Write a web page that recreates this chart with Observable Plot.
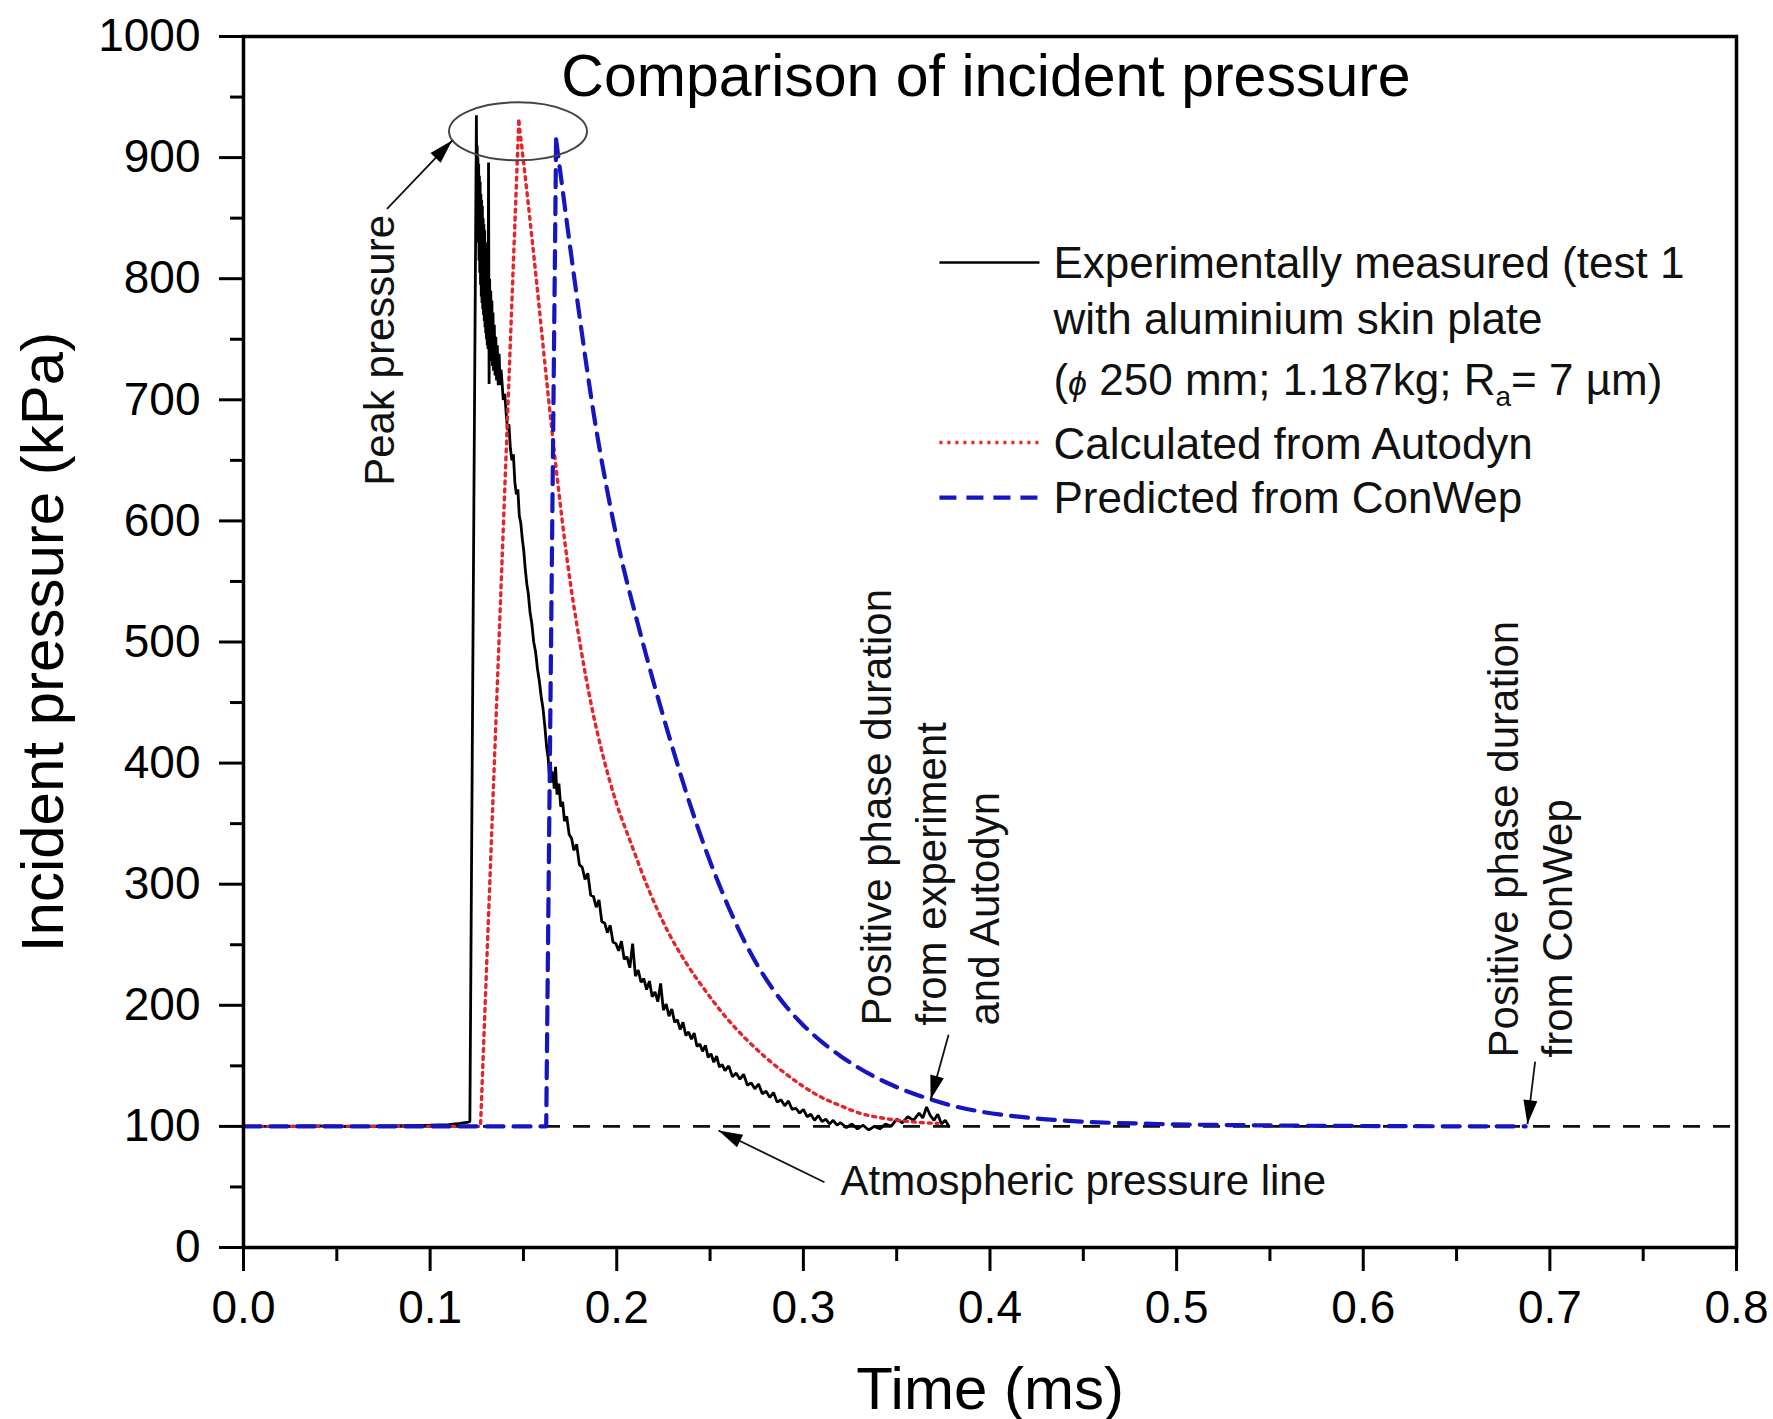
<!DOCTYPE html>
<html>
<head>
<meta charset="utf-8">
<script src="https://cdn.jsdelivr.net/npm/d3@7"></script>
<script src="https://cdn.jsdelivr.net/npm/@observablehq/plot@0.6"></script>
<style>
  html, body { margin: 0; padding: 0; background: #fff; }
  #chart svg { display: block; }
</style>
</head>
<body>
<div id="chart"></div>
<script>
// ---------------- DATA ----------------
const chartTitle = "Comparison of incident pressure";
const xLabel = "Time (ms)";
const yLabel = "Incident pressure (kPa)";

const xTicks = [0, 0.1, 0.2, 0.3, 0.4, 0.5, 0.6, 0.7, 0.8];
const xMinorTicks = [0.05, 0.15, 0.25, 0.35, 0.45, 0.55, 0.65, 0.75];
const yTicks = [0, 100, 200, 300, 400, 500, 600, 700, 800, 900, 1000];
const yMinorTicks = [50, 150, 250, 350, 450, 550, 650, 750, 850, 950];

const atmosphericPressure = 100;

// Experimentally measured (test 1)
const expTime = [
  0.000, 0.020, 0.040, 0.060, 0.080, 0.100, 0.110, 0.116, 0.1205, 0.1213,
  0.1248, 0.1250, 0.1252, 0.1254, 0.1256, 0.1258, 0.1260, 0.1262, 0.1264, 0.1266,
  0.1268, 0.1270, 0.1272, 0.1274, 0.1276, 0.1278, 0.1280, 0.1282, 0.1284, 0.1286,
  0.1288, 0.1290, 0.1292, 0.1294, 0.1296, 0.1298, 0.1300, 0.1302, 0.1304, 0.1306,
  0.1308, 0.1310, 0.1313, 0.1316, 0.1319, 0.1322, 0.1325, 0.1328, 0.1331, 0.1334,
  0.1337, 0.1340, 0.1344, 0.1348, 0.1352, 0.1356, 0.1360, 0.1365, 0.1370, 0.1375,
  0.1380, 0.1385, 0.1392, 0.1400, 0.1408, 0.1415, 0.1422, 0.1430, 0.1438, 0.1446,
  0.1454, 0.1462, 0.1470, 0.1478, 0.1486, 0.1494, 0.1502, 0.1510, 0.1518, 0.1526,
  0.1535, 0.1545, 0.1555, 0.1565, 0.1575, 0.1585, 0.1595, 0.1605, 0.1615, 0.1625,
  0.1632, 0.1638, 0.1645, 0.1650, 0.1658, 0.1665, 0.1672, 0.1680, 0.1690, 0.1700,
  0.1710, 0.1720, 0.1732, 0.1745, 0.1758, 0.1770, 0.1785, 0.1800, 0.1815, 0.1830,
  0.1845, 0.1860, 0.1875, 0.1890, 0.1905, 0.1920, 0.1935, 0.1950, 0.1965, 0.1980,
  0.1995, 0.2010, 0.2025, 0.2040, 0.2055, 0.2070, 0.2085, 0.2100, 0.2115, 0.2130,
  0.2145, 0.2160, 0.2175, 0.2190, 0.2205, 0.2220, 0.2235, 0.2250, 0.2265, 0.2280,
  0.2295, 0.2310, 0.2325, 0.2340, 0.2355, 0.2370, 0.2385, 0.2400, 0.2415, 0.2430,
  0.2445, 0.2460, 0.2475, 0.2490, 0.2505, 0.2520, 0.2535, 0.2550, 0.2565, 0.2580,
  0.2600, 0.2620, 0.2640, 0.2660, 0.2680, 0.2700, 0.2720, 0.2740, 0.2760, 0.2780,
  0.2800, 0.2820, 0.2840, 0.2860, 0.2880, 0.2900, 0.2920, 0.2940, 0.2960, 0.2980,
  0.3000, 0.3020, 0.3040, 0.3060, 0.3080, 0.3100, 0.3120, 0.3140, 0.3160, 0.3180,
  0.3200, 0.3230, 0.3260, 0.3290, 0.3320, 0.3350, 0.3380, 0.3410, 0.3440, 0.3470,
  0.3500, 0.3530, 0.3560, 0.3590, 0.3620, 0.3640, 0.3660, 0.3680, 0.3700, 0.3720,
  0.3740, 0.3760, 0.3780
];
const expPressure = [
  100, 100, 100.5, 100, 100.5, 101, 101.5, 102.5, 103.5, 104,
  935, 870, 910, 850, 900, 830, 895, 815, 885, 805,
  880, 795, 870, 785, 865, 780, 860, 775, 850, 770,
  845, 765, 840, 760, 830, 755, 825, 750, 815, 745,
  808, 742, 896, 713, 800, 740, 790, 732, 782, 728,
  772, 724, 762, 720, 752, 716, 745, 712, 738, 712,
  725, 715, 700, 705, 688, 675, 680, 660, 650, 655,
  632, 622, 626, 604, 598, 585, 575, 560, 548, 540,
  525, 515, 500, 492, 478, 468, 455, 445, 430, 412,
  405, 392, 401, 384, 393, 379, 397, 374, 383, 364,
  368, 352, 356, 341, 338, 328, 333, 316, 314, 304,
  309, 291, 290, 281, 287, 269, 268, 260, 266, 252,
  251, 245, 253, 238, 240, 231, 251, 224, 229, 219,
  222, 213, 220, 207, 211, 203, 218, 196, 201, 191,
  197, 186, 188, 180, 186, 175, 178, 172, 177, 166,
  168, 162, 167, 157, 160, 153, 158, 149, 151, 146,
  150, 141, 144, 139, 143, 134, 136, 131, 135, 127,
  129, 124, 128, 120, 122, 117, 121, 114, 115, 111,
  114, 108, 110, 105, 109, 104, 106, 102, 105, 101,
  103, 99, 102, 98, 101, 97, 100, 98, 102, 100,
  106, 103, 108, 105, 111, 107, 116, 109, 105, 110,
  102, 105, 100
];

// Calculated from Autodyn
const autodynTime = [
  0, 0.127, 0.1475, 0.152, 0.1574, 0.1627, 0.168, 0.1734, 0.1805, 0.1865,
  0.1928, 0.200, 0.2071, 0.217, 0.2277, 0.238, 0.248, 0.258, 0.2687, 0.279,
  0.2892, 0.299, 0.3097, 0.320, 0.330, 0.340, 0.3507, 0.360, 0.372
];
const autodynPressure = [
  100, 100, 930, 870, 792, 712, 637, 568, 497, 447,
  405, 366, 336, 296, 260, 233, 211, 191, 173, 158,
  145, 134, 124, 117, 111, 107.5, 105, 103.5, 102.5
];

// Predicted from ConWep
const conwepTime = [
  0, 0.1622, 0.1675, 0.1734, 0.1806, 0.1877, 0.1949, 0.202, 0.2113, 0.2195,
  0.2277, 0.238, 0.248, 0.258, 0.2687, 0.279, 0.2892, 0.299, 0.3097, 0.320,
  0.330, 0.3394, 0.3507, 0.3668, 0.380, 0.394, 0.4215, 0.449, 0.490, 0.550,
  0.620, 0.687
];
const conwepPressure = [
  100, 100, 915, 845, 763, 688, 625, 572, 515, 468,
  424, 372, 327, 288, 252, 224, 202, 185, 170, 158,
  148, 140, 132, 123, 117, 112.5, 107, 104, 102, 100.8,
  100.2, 100
];

// Legend
const legendLabels = [
  "Experimentally measured (test 1",
  "with aluminium skin plate",
  "(ϕ 250 mm; 1.187kg; Ra= 7 µm)",
  "Calculated from Autodyn",
  "Predicted from ConWep"
];
const legendTextT = 0.434;
const legendTextP = [812, 766, 715.5, 663, 618];
const legendKeyT = [0.3729, 0.4265];
const legendKeyP = [813.4, 664.7, 619.3];

// Annotations
const peakRing = {t: 0.1471, p: 921.7};
const annotationTexts = [
  {t: 0.0734, p: 629, text: "Peak pressure", rotate: -90},
  {t: 0.3400, p: 183.3, text: "Positive phase duration", rotate: -90},
  {t: 0.3690, p: 183.3, text: "from experiment", rotate: -90},
  {t: 0.3974, p: 183.3, text: "and Autodyn", rotate: -90},
  {t: 0.6755, p: 156.9, text: "Positive phase duration", rotate: -90},
  {t: 0.7044, p: 156.9, text: "from ConWep", rotate: -90},
  {t: 0.3199, p: 54.1, text: "Atmospheric pressure line", rotate: 0}
];
const arrows = [
  {t1: 0.0769, p1: 857.7, t2: 0.1118, p2: 914.1},
  {t1: 0.3113, p1: 53.9, t2: 0.2545, p2: 96.6},
  {t1: 0.3778, p1: 175.6, t2: 0.3682, p2: 122.2},
  {t1: 0.6921, p1: 153.4, t2: 0.6880, p2: 101.8}
];

// ---------------- BUILD ----------------
const experimental = expTime.map((t, i) => ({t, p: expPressure[i]}));
const autodyn = autodynTime.map((t, i) => ({t, p: autodynPressure[i]}));
const conwep = conwepTime.map((t, i) => ({t, p: conwepPressure[i]}));
const autodynPeakT = autodynTime[d3.maxIndex(autodynPressure)];
const conwepPeakT = conwepTime[d3.maxIndex(conwepPressure)];

const legendRows = legendLabels.map((label, i) => ({t: legendTextT, p: legendTextP[i], label}));
const legendKeys = [
  {t1: legendKeyT[0], t2: legendKeyT[1], p: legendKeyP[0], key: "exp"},
  {t1: legendKeyT[0], t2: legendKeyT[1], p: legendKeyP[1], key: "autodyn"},
  {t1: legendKeyT[0], t2: legendKeyT[1], p: legendKeyP[2], key: "conwep"}
];

const FONT = "'Liberation Sans', Arial, Helvetica, sans-serif";
const RED = "#e3262b";
const BLUE = "#1616c0";
const redStyle = {stroke: RED, strokeWidth: 3.4, strokeDasharray: "3,5"};
const blueStyle = {stroke: BLUE, strokeWidth: 4.2, strokeDasharray: "17,10"};

const dims = {
  width: 1773, height: 1419,
  marginLeft: 243, marginRight: 37, marginTop: 36, marginBottom: 172,
  x: {domain: [0, 0.8]},
  y: {domain: [0, 1000]}
};

// probe to get the library's pixel scales for arrowhead orientation
const probe = Plot.plot({...dims, marks: [Plot.dot(arrows, {x: "t1", y: "p1"}), Plot.dot(arrows, {x: "t2", y: "p2"})]});
const sx = probe.scale("x"), sy = probe.scale("y");
const arrowHeads = arrows.map(a => {
  const dx = sx.apply(a.t2) - sx.apply(a.t1);
  const dy = sy.apply(a.p2) - sy.apply(a.p1);
  return {t: a.t2, p: a.p2, angle: Math.atan2(dx, -dy) * 180 / Math.PI};
});

const ringSymbol = {
  draw(ctx) {
    const rx = 69, ry = 29, k = 0.5523;
    ctx.moveTo(rx, 0);
    ctx.bezierCurveTo(rx, ry * k, rx * k, ry, 0, ry);
    ctx.bezierCurveTo(-rx * k, ry, -rx, ry * k, -rx, 0);
    ctx.bezierCurveTo(-rx, -ry * k, -rx * k, -ry, 0, -ry);
    ctx.bezierCurveTo(rx * k, -ry, rx, -ry * k, rx, 0);
    ctx.closePath();
  }
};
const headSymbol = {
  draw(ctx) {
    ctx.moveTo(0, 0);
    ctx.lineTo(-7, 24);
    ctx.lineTo(7, 24);
    ctx.closePath();
  }
};

const chart = Plot.plot({
  ...dims,
  style: {fontFamily: FONT, background: "#fff", color: "#000", overflow: "visible"},
  marks: [
    // atmospheric line
    Plot.ruleY([atmosphericPressure], {stroke: "#111", strokeWidth: 2.6, strokeDasharray: "17,13"}),
    // series
    Plot.line(experimental, {x: "t", y: "p", stroke: "#000", strokeWidth: 2.8, strokeLinejoin: "miter"}),
    Plot.line(autodyn.filter(d => d.t <= autodynPeakT), {x: "t", y: "p", ...redStyle}),
    Plot.line(autodyn.filter(d => d.t >= autodynPeakT), {x: "t", y: "p", curve: "monotone-x", ...redStyle}),
    Plot.line(conwep.filter(d => d.t <= conwepPeakT), {x: "t", y: "p", ...blueStyle}),
    Plot.line(conwep.filter(d => d.t >= conwepPeakT), {x: "t", y: "p", curve: "monotone-x", ...blueStyle}),
    // frame & axes
    Plot.frame({stroke: "#000", strokeWidth: 3.5}),
    Plot.axisX(xTicks, {tickSize: 24, tickPadding: 19, tickFormat: d => d.toFixed(1), fontSize: 46, strokeWidth: 3, label: null}),
    Plot.axisX(xMinorTicks, {tickSize: 14, tickFormat: () => "", strokeWidth: 3, label: null}),
    Plot.axisY(yTicks, {tickSize: 24, tickPadding: 19, tickFormat: d => String(d), fontSize: 46, strokeWidth: 3, label: null}),
    Plot.axisY(yMinorTicks, {tickSize: 13, tickFormat: () => "", strokeWidth: 3, label: null}),
    // titles
    Plot.text([chartTitle], {frameAnchor: "top", lineAnchor: "middle", textAnchor: "middle", dy: 41, dx: -4, fontSize: 59, fill: "#000"}),
    Plot.text([xLabel], {frameAnchor: "bottom", lineAnchor: "middle", textAnchor: "middle", dy: 141.8, fontSize: 60, fill: "#000"}),
    Plot.text([yLabel], {frameAnchor: "left", lineAnchor: "middle", textAnchor: "middle", dx: -200, dy: 0, rotate: -90, fontSize: 60, fill: "#000"}),
    // legend
    Plot.link(legendKeys.filter(d => d.key === "exp"), {x1: "t1", x2: "t2", y1: "p", y2: "p", stroke: "#000", strokeWidth: 2.6}),
    Plot.link(legendKeys.filter(d => d.key === "autodyn"), {x1: "t1", x2: "t2", y1: "p", y2: "p", ...redStyle}),
    Plot.link(legendKeys.filter(d => d.key === "conwep"), {x1: "t1", x2: "t2", y1: "p", y2: "p", ...blueStyle}),
    Plot.text(legendRows, {x: "t", y: "p", text: "label", textAnchor: "start", lineAnchor: "middle", fontSize: 44, fill: "#111"}),
    // annotations
    Plot.dot([peakRing], {x: "t", y: "p", symbol: ringSymbol, fill: "none", stroke: "#444", strokeWidth: 2}),
    Plot.link(arrows, {x1: "t1", y1: "p1", x2: "t2", y2: "p2", stroke: "#111", strokeWidth: 1.8}),
    Plot.dot(arrowHeads, {x: "t", y: "p", symbol: headSymbol, rotate: "angle", fill: "#000", stroke: "none"}),
    Plot.text(annotationTexts.filter(d => d.rotate === -90), {x: "t", y: "p", text: "text", rotate: -90, textAnchor: "start", lineAnchor: "middle", fontSize: 42, fill: "#111"}),
    Plot.text(annotationTexts.filter(d => d.rotate === 0), {x: "t", y: "p", text: "text", textAnchor: "start", lineAnchor: "middle", fontSize: 42, fill: "#111"})
  ]
});

document.getElementById("chart").appendChild(chart);

// rich text for the third legend row (italic phi, subscript a)
d3.select(chart).selectAll("text").filter(function () {
  return this.textContent === legendLabels[2];
}).each(function () {
  const t = d3.select(this);
  t.text(null);
  t.append("tspan").text("(");
  t.append("tspan").attr("font-style", "italic").attr("font-size", 34).text("ϕ");
  t.append("tspan").text(" 250 mm; 1.187kg; R");
  t.append("tspan").attr("font-size", 28).attr("dy", 11).text("a");
  t.append("tspan").attr("dy", -11).text("= 7 µm)");
});
</script>
</body>
</html>
